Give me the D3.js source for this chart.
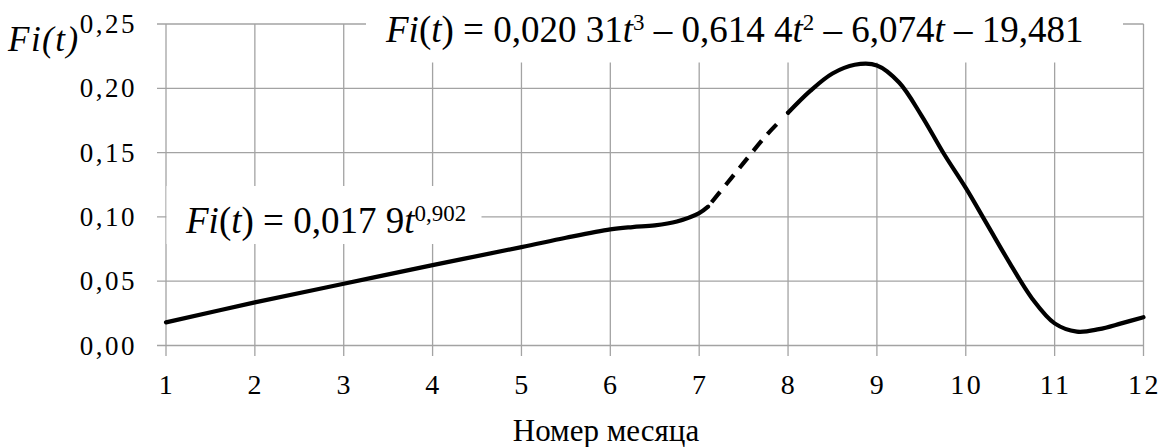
<!DOCTYPE html>
<html>
<head>
<meta charset="utf-8">
<script src="https://cdn.jsdelivr.net/npm/d3@7"></script>
<style>
  body { margin: 0; background: #fff; }
  svg { display: block; }
</style>
</head>
<body>
<svg id="chart"></svg>
<script>
// month ticks and value ticks
var months = [1, 2, 3, 4, 5, 6, 7, 8, 9, 10, 11, 12];
var valueTicks = [0, 0.05, 0.10, 0.15, 0.20, 0.25];

// power trend, months 1..7 (solid)
var powerT = [1, 2, 3, 4, 5, 5.5, 6, 6.25, 6.5, 6.75, 7, 7.1];
var powerV = [0.018, 0.0335, 0.048, 0.0625, 0.0765, 0.0838, 0.0903, 0.0921, 0.0934, 0.0965, 0.103, 0.108];

// gap between the two trends (dashed)
var gapT = [7.1, 7.3, 7.5, 7.75, 8];
var gapV = [0.108, 0.125, 0.142, 0.163, 0.181];

// cubic trend, months 8..12 (solid)
var polyT = [8, 8.25, 8.5, 8.75, 9, 9.25, 9.5, 9.75, 10, 10.25, 10.5, 10.75, 11, 11.25, 11.5, 11.75, 12];
var polyV = [0.181, 0.198, 0.2115, 0.2183, 0.2178, 0.2045, 0.1790, 0.1495, 0.1225, 0.093, 0.0635, 0.0362, 0.0172, 0.0108, 0.0127, 0.0172, 0.022];

var serif = "'Liberation Serif', 'Times New Roman', Times, serif";
var svgWidth = 1164, svgHeight = 447;
var svg = d3.select("#chart")
  .attr("width", svgWidth)
  .attr("height", svgHeight)
  .attr("font-family", serif);

var x = d3.scaleLinear().domain([1, 12]).range([166, 1143.5]);
var y = d3.scaleLinear().domain([0, 0.25]).range([345.5, 24]);

var grid = "#a3a3a3";
var fmt = function(v) { return d3.format(".2f")(v).replace(".", ","); };

// horizontal grid lines (stick out left as ticks)
svg.append("g").selectAll("line")
  .data(valueTicks).enter().append("line")
  .attr("x1", x(1) - 9).attr("x2", x(12))
  .attr("y1", function(d) { return y(d); })
  .attr("y2", function(d) { return y(d); })
  .attr("stroke", grid).attr("stroke-width", 1.3);

// vertical grid lines (stick out below as ticks)
svg.append("g").selectAll("line")
  .data(months).enter().append("line")
  .attr("x1", function(d) { return x(d); })
  .attr("x2", function(d) { return x(d); })
  .attr("y1", y(0.25)).attr("y2", y(0) + 10.5)
  .attr("stroke", grid).attr("stroke-width", 1.3);

// y tick labels
svg.append("g").selectAll("text")
  .data(valueTicks).enter().append("text")
  .attr("x", 137)
  .attr("y", function(d) { return y(d); })
  .attr("dy", "0.34em")
  .attr("text-anchor", "end")
  .attr("font-family", serif)
  .attr("font-size", 27)
  .attr("letter-spacing", 2.5)
  .text(fmt);

// x tick labels
svg.append("g").selectAll("text")
  .data(months).enter().append("text")
  .attr("x", function(d) { return x(d) + 1; })
  .attr("y", 394)
  .attr("text-anchor", "middle")
  .attr("font-family", serif)
  .attr("font-size", 28)
  .attr("letter-spacing", 2.5)
  .text(function(d) { return d; });

// axis titles
svg.append("text")
  .attr("x", 8).attr("y", 51)
  .attr("font-family", serif)
  .attr("font-size", 35)
  .attr("font-style", "italic")
  .attr("letter-spacing", 1.5)
  .text("Fi(t)");

svg.append("text")
  .attr("x", 606).attr("y", 441)
  .attr("text-anchor", "middle")
  .attr("font-family", serif)
  .attr("font-size", 31)
  .text("Номер месяца");

// white frames behind the equations
svg.append("rect").attr("x", 366).attr("y", 0).attr("width", 757).attr("height", 62.5).attr("fill", "#fff");
svg.append("rect").attr("x", 166.5).attr("y", 186).attr("width", 315).attr("height", 58).attr("fill", "#fff");

function equation(px, py, size, parts) {
  var t = svg.append("text").attr("x", px).attr("y", py)
    .attr("font-family", serif).attr("font-size", size);
  parts.forEach(function(p) {
    var s = t.append("tspan").text(p.s);
    if (p.i) s.attr("font-style", "italic");
    if (p.sup) s.attr("font-size", size * 0.62).attr("baseline-shift", "super");
  });
  return t;
}

equation(386, 42, 37, [
  { s: "Fi", i: true }, { s: "(" }, { s: "t", i: true }, { s: ") = 0,020 31" },
  { s: "t", i: true }, { s: "3", sup: true },
  { s: " – 0,614 4" }, { s: "t", i: true }, { s: "2", sup: true },
  { s: " – 6,074" }, { s: "t", i: true }, { s: " – 19,481" }
]);

equation(186, 233, 37, [
  { s: "Fi", i: true }, { s: "(" }, { s: "t", i: true }, { s: ") = 0,017 9" },
  { s: "t", i: true }, { s: "0,902", sup: true }
]);

// trend curves
var line = d3.line()
  .x(function(d) { return x(d[0]); })
  .y(function(d) { return y(d[1]); })
  .curve(d3.curveCatmullRom.alpha(0.5));

function pairs(ts, vs) { return ts.map(function(t, i) { return [t, vs[i]]; }); }

svg.append("path")
  .datum(pairs(powerT, powerV))
  .attr("fill", "none").attr("stroke", "#000")
  .attr("stroke-width", 4.2).attr("stroke-linecap", "round")
  .attr("d", line);

svg.append("path")
  .datum(pairs(gapT, gapV))
  .attr("fill", "none").attr("stroke", "#000")
  .attr("stroke-width", 4.2)
  .attr("stroke-dasharray", "0 6 13 9 13 9 13 9 13 9 13 9")
  .attr("d", line);

svg.append("path")
  .datum(pairs(polyT, polyV))
  .attr("fill", "none").attr("stroke", "#000")
  .attr("stroke-width", 4.2).attr("stroke-linecap", "round")
  .attr("d", line);
</script>
</body>
</html>
